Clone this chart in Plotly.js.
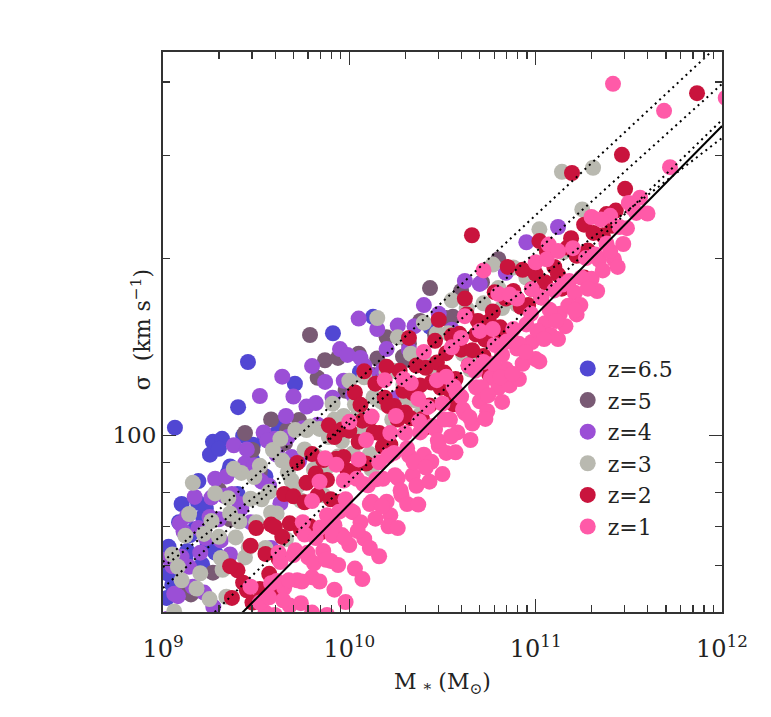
<!DOCTYPE html>
<html>
<head>
<meta charset="utf-8">
<script src="https://cdn.plot.ly/plotly-3.0.1.min.js"></script>
<style>html,body{margin:0;padding:0;background:#fff;}#chart{width:771px;height:717px;}</style>
</head>
<body>
<div id="chart"></div>
<script>
// ---- data: log10(M*/Msun) and log10(sigma / km s^-1) ----
const seriesNames = ['z=6.5', 'z=5', 'z=4', 'z=3', 'z=2', 'z=1'];

const logM_z65 = [9.064,9.456,9.403,9.708,9.268,9.317,9.483,9.547,9.601,9.349,9.252,9.188,9.086,9.145,9.215,9.027,9.091,9.021,9.478,9.912,10.057,10.127,10.433,9.17,9.24,9.28,9.21,9.40,9.55,9.12,9.05,
  9.03,9.07,9.10,9.13,9.19,9.23,9.30,9.36,9.43,9.62];
const logS_z65 = [2.013,2.125,2.048,2.088,1.989,1.994,1.984,1.997,2.001,1.936,1.967,1.885,1.852,1.830,1.861,1.764,1.777,1.723,1.958,2.174,2.108,2.202,2.185,1.840,1.815,1.800,1.780,1.900,1.930,1.790,1.745,
  1.810,1.753,1.883,1.803,1.922,1.875,1.977,1.947,1.999,2.020];

const logM_z5 = [9.44,9.665,9.655,9.789,9.869,9.939,10.127,10.288,10.326,9.107,9.268,10.433,10.712,10.487,10.556,9.30,9.36,9.52,9.58,9.73,9.98,10.05,10.20,10.38,10.60,10.80,9.15,10.46,10.52,
  9.22,9.48,9.62,9.83,10.15,10.32];
const logS_z5 = [2.004,2.009,1.987,2.171,2.128,2.132,2.103,2.134,2.128,1.733,1.766,2.251,2.261,2.202,2.202,1.907,1.857,1.938,2.027,2.026,2.076,2.139,2.167,2.195,2.246,2.300,1.729,2.171,2.200,
  1.832,1.975,1.980,2.098,2.131,2.156];

const logM_z4 = [9.02,9.05,9.08,9.11,9.14,9.17,9.20,9.22,9.25,9.27,9.28,9.31,9.33,9.36,9.38,9.41,9.44,9.47,9.52,9.50,9.54,9.57,9.60,9.64,9.63,9.67,9.70,9.73,9.77,9.80,9.83,9.87,9.91,9.95,9.99,10.02,10.06,10.10,10.15,10.20,10.26,10.32,10.40,10.48,10.55,10.62,10.70,10.84,10.95,11.12,9.92,10.25,9.58,9.09,10.05,
  9.03,9.06,9.10,9.13,9.16,9.19,9.23,9.26,9.30,9.34,9.37,9.42,9.45,9.49,9.53,9.56,9.61,9.66,9.69,9.75,9.82,9.89,9.97,10.08,10.18,10.35];
const logS_z4 = [1.687,1.777,1.726,1.836,1.776,1.895,1.800,1.732,1.861,1.708,1.926,1.821,1.897,1.797,1.983,1.883,1.952,1.852,2.067,1.932,2.005,1.914,1.994,2.100,1.884,1.997,2.066,1.956,2.049,2.118,2.018,2.091,2.064,2.147,2.137,2.069,2.132,2.105,2.181,2.147,2.187,2.146,2.222,2.207,2.180,2.263,2.258,2.277,2.329,2.355,1.957,2.063,1.808,1.850,2.199,
  1.790,1.730,1.793,1.863,1.742,1.842,1.825,1.894,1.857,1.930,1.900,1.876,1.976,1.949,1.921,1.991,1.967,2.033,1.963,2.012,2.055,2.017,2.093,2.119,2.111,2.186];

const logM_z3 = [9.05,9.10,9.16,9.18,9.22,9.25,9.28,9.32,9.34,9.36,9.39,9.42,9.44,9.47,9.50,9.52,9.55,9.57,9.59,9.61,9.64,9.66,9.69,9.71,9.74,9.76,9.79,9.81,9.84,9.86,9.89,9.91,9.94,9.97,10.00,10.02,10.05,10.08,10.11,10.15,10.17,10.20,10.23,10.26,10.29,10.33,10.36,10.40,10.43,10.47,10.51,10.55,10.59,10.63,10.67,10.72,10.77,10.82,10.88,10.95,11.02,11.147,11.141,11.308,11.25,9.38,9.30,9.12,9.06,10.12,10.38,10.65,
  9.08,9.14,9.20,9.26,9.31,9.35,9.41,9.46,9.49,9.53,9.58,9.63,9.67,9.72,9.77,9.82,9.87,9.92,9.96,10.03,10.07,10.13,10.19,10.24,10.31,10.38,10.45,10.53,10.61,10.69,10.80,10.90];
const logS_z3 = [1.797,1.753,1.919,1.739,1.832,1.721,1.901,1.771,1.725,1.867,1.826,1.936,1.792,1.892,1.852,1.948,1.808,1.904,1.975,1.867,1.957,1.823,1.923,2.009,1.889,1.976,2.015,1.942,2.011,1.898,1.997,2.054,1.964,2.033,2.093,1.969,2.039,2.099,1.968,2.200,2.058,2.107,2.027,2.167,2.086,2.139,2.059,2.192,2.121,2.174,2.097,2.230,2.163,2.216,2.139,2.225,2.291,2.217,2.286,2.269,2.351,2.312,2.449,2.456,2.385,1.943,1.827,1.829,1.700,1.942,2.035,2.112,
  1.776,1.866,1.765,1.854,1.791,1.893,1.853,1.809,1.929,1.891,1.868,1.994,1.937,1.913,2.009,1.965,1.941,2.027,1.990,2.053,2.005,2.065,2.054,2.110,2.063,2.135,2.108,2.174,2.139,2.195,2.251,2.223];

const logM_z2 = [9.37,9.45,9.48,9.55,9.58,9.62,9.65,9.68,9.72,9.74,9.77,9.80,9.83,9.86,9.89,9.90,9.93,9.96,9.99,10.00,10.03,10.05,10.06,10.09,10.11,10.14,10.16,10.19,10.22,10.24,10.27,10.30,10.34,10.36,10.39,10.41,10.44,10.46,10.49,10.52,10.55,10.57,10.60,10.63,10.658,10.66,10.69,10.72,10.75,10.78,10.81,10.84,10.87,10.90,10.93,10.96,11.00,11.03,11.06,11.10,11.14,11.17,11.195,11.22,11.26,11.31,11.36,11.43,11.463,11.48,11.866,11.26,9.40,9.47,9.52,9.60,9.36,9.95,10.08,10.20,10.32,10.48,10.62,10.85,11.02,10.40,10.56,10.75,9.85,
  9.43,9.50,9.57,9.60,9.64,9.70,9.76,9.79,9.82,9.88,9.92,9.97,10.02,10.07,10.13,10.18,10.21,10.26,10.29,10.33,10.38,10.43,10.47,10.51,10.54,10.59,10.64,10.68,10.73,10.77,10.82,10.88,10.92,10.98,11.05,11.12,11.19,11.28,11.38,11.41];
const logS_z2 = [1.723,1.736,1.715,1.798,1.848,1.790,1.900,1.850,1.953,1.839,1.919,1.968,1.898,1.958,2.017,1.891,1.960,2.010,1.940,2.008,2.073,1.989,2.052,1.952,2.028,2.088,2.004,2.064,1.984,2.050,2.110,2.039,2.072,2.119,2.028,2.115,2.090,2.161,2.081,2.140,2.170,2.096,2.146,2.206,2.341,2.145,2.195,2.135,2.194,2.244,2.184,2.233,2.163,2.233,2.282,2.222,2.275,2.235,2.314,2.287,2.250,2.320,2.447,2.306,2.359,2.345,2.341,2.383,2.478,2.420,2.583,2.269,1.770,1.812,1.738,1.734,1.777,1.887,2.109,2.117,2.166,2.197,2.233,2.287,2.331,2.012,2.053,2.104,1.835,
  1.749,1.842,1.764,1.844,1.827,1.896,1.886,1.845,1.935,1.924,1.997,1.963,1.939,2.025,2.005,1.981,2.050,2.027,2.076,2.029,2.085,2.051,2.124,2.107,2.077,2.173,2.119,2.172,2.163,2.211,2.167,2.246,2.219,2.249,2.261,2.274,2.336,2.315,2.377,2.357];

const logM_z1 = [9.55,9.58,9.60,9.63,9.65,9.68,9.70,9.72,9.74,9.76,9.78,9.80,9.82,9.84,9.86,9.88,9.90,9.92,9.94,9.96,9.98,10.00,10.02,10.04,10.06,10.08,10.10,10.12,10.14,10.16,10.18,10.20,10.22,10.24,10.26,10.28,10.30,10.32,10.34,10.36,10.38,10.40,10.42,10.44,10.46,10.48,10.50,10.52,10.54,10.56,10.58,10.60,10.62,10.64,10.66,10.68,10.70,10.72,10.74,10.76,10.78,10.80,10.82,10.84,10.86,10.88,10.90,10.93,10.95,10.98,11.00,11.03,11.05,11.08,11.10,11.13,11.16,11.18,11.21,11.24,11.27,11.30,11.34,11.38,11.42,11.45,11.49,11.54,11.60,
  9.80,9.87,9.93,10.00,10.05,10.12,10.19,10.25,10.33,10.40,10.47,10.55,10.62,10.72,10.70,10.80,10.90,11.00,11.07,11.06,11.20,11.30,11.40,11.50,
  11.415,11.689,11.721,12.02,9.47,9.52,9.62,
  9.80,9.88,9.92,9.98,10.03,10.07,10.11,10.16,10.21,10.26,10.31,10.37,10.43,10.50,10.57,10.65,10.73,10.82,10.91,11.02,11.12,11.22,11.33,11.44,
  9.61,9.645,9.675,9.71,9.745,9.775,9.81,9.845,9.875,9.91,9.945,9.975,10.01,10.045,10.075,10.11,10.145,10.175,10.21,10.245,10.275,10.31,10.345,10.375,10.41,10.445,10.475,10.51,10.545,10.575,10.61,10.645,10.675,10.71,10.745,10.775,10.81,10.845,10.875,10.91,10.945,10.975,11.01,11.045,11.075,11.11,11.145,11.175,11.21,11.245,11.28,11.32,11.36,11.40,11.47,11.52,9.57,
  9.75,9.84,9.97,10.09,10.22,10.29,10.37,10.52,10.60,10.77,10.86,10.98,11.12,11.35,11.56];
const logS_z1 = [1.698,1.748,1.694,1.784,1.740,1.710,1.796,1.753,1.714,1.831,1.792,1.758,1.825,1.751,1.803,1.864,1.786,1.847,1.779,1.830,1.891,1.813,1.869,1.926,1.852,1.824,1.915,1.887,1.858,1.954,1.926,1.887,1.864,1.970,1.927,1.898,2.004,1.966,1.932,1.914,2.005,1.967,2.048,1.955,2.011,1.982,2.054,1.970,2.027,2.083,2.005,2.066,2.038,2.119,2.020,2.082,2.058,2.125,2.041,2.098,2.154,2.081,2.137,2.113,2.085,2.181,2.148,2.122,2.189,2.159,2.130,2.235,2.191,2.171,2.247,2.207,2.186,2.263,2.243,2.222,2.302,2.267,2.299,2.327,2.300,2.355,2.353,2.379,2.378,
  1.888,1.961,1.950,2.023,1.959,2.032,2.094,2.033,2.089,2.142,2.094,2.150,2.203,2.281,2.178,2.241,2.233,2.295,2.325,2.300,2.319,2.372,2.374,2.396,
  2.599,2.553,2.457,2.575,1.742,1.715,1.800,
  1.698,1.694,1.737,1.716,1.773,1.755,1.808,1.794,1.845,1.842,1.883,1.882,1.921,1.934,1.971,1.992,2.028,2.057,2.096,2.126,2.164,2.206,2.246,2.287,
  1.752,1.719,1.753,1.804,1.751,1.800,1.782,1.843,1.788,1.829,1.870,1.825,1.871,1.837,1.917,1.883,1.925,1.879,1.965,1.932,1.906,1.978,1.954,2.024,1.945,2.016,1.991,2.027,1.998,2.073,2.044,2.031,2.110,2.082,2.068,2.122,2.099,2.160,2.105,2.156,2.142,2.207,2.178,2.164,2.214,2.195,2.257,2.221,2.213,2.269,2.250,2.308,2.281,2.314,2.326,2.387,1.724,
  1.852,1.921,1.923,1.992,2.004,2.096,2.062,2.100,2.166,2.181,2.240,2.249,2.314,2.368,2.405];

// relations drawn as lines: log10(sigma) at M* = 1e10 and log slope
const lineLogSigma10 = [2.0797, 2.0262, 1.9215, 2.0191, 1.8828];
const lineSlope      = [0.2955, 0.2863, 0.3080, 0.2438, 0.3221];
const lineLogMEnds   = [9, 12];

// tick labels
const xTickVals = [1e9, 1e10, 1e11, 1e12];
const xTickText = ['10<sup>9</sup>', '10<sup>10</sup>', '10<sup>11</sup>', '10<sup>12</sup>'];
const yTickVals = [100];
const yTickText = ['100'];

// ---- styles ----
const seriesColors = ['#5147d3', '#795a74', '#9b4fd6', '#b9b9b0', '#c9143d', '#ff5aa8'];
const lineDashes = ['2px,4px', '2px,4px', '2px,4px', '2px,4px', 'solid'];

const allM = [logM_z65, logM_z5, logM_z4, logM_z3, logM_z2, logM_z1];
const allS = [logS_z65, logS_z5, logS_z4, logS_z3, logS_z2, logS_z1];

const traces = [];
for (let i = 0; i < seriesNames.length; i++) {
  traces.push({
    type: 'scatter', mode: 'markers', name: seriesNames[i],
    x: allM[i].map(v => Math.pow(10, v)),
    y: allS[i].map(v => Math.pow(10, v)),
    marker: { color: seriesColors[i], size: 16, line: { width: 0 } },
    hoverinfo: 'x+y'
  });
}
for (let j = 0; j < lineSlope.length; j++) {
  traces.push({
    type: 'scatter', mode: 'lines', showlegend: false, hoverinfo: 'skip',
    x: lineLogMEnds.map(v => Math.pow(10, v)),
    y: lineLogMEnds.map(v => Math.pow(10, lineLogSigma10[j] + lineSlope[j] * (v - 10))),
    line: { color: '#000', width: 2, dash: lineDashes[j] }
  });
}

function decadeMinors(lo, hi) {
  const out = [];
  for (let e = lo; e < hi; e++) for (let k = 2; k <= 9; k++) out.push(k * Math.pow(10, e));
  return out;
}

const FONT = 'DejaVu Serif, Liberation Serif, serif';
const layout = {
  width: 771, height: 717,
  margin: { l: 163, r: 49, t: 52, b: 105 },
  paper_bgcolor: '#fff', plot_bgcolor: '#fff',
  font: { family: FONT, color: '#222', size: 22 },
  showlegend: true,
  legend: {
    x: 0.724, y: 0.472, xanchor: 'left', yanchor: 'top',
    bgcolor: 'rgba(0,0,0,0)', borderwidth: 0,
    font: { family: FONT, size: 22, color: '#222' },
    itemwidth: 30, tracegroupgap: 0
  },
  xaxis: {
    type: 'log', range: [9, 12],
    tickmode: 'array', tickvals: xTickVals, ticktext: xTickText,
    ticks: 'inside', ticklen: 13, tickwidth: 1.5, tickcolor: '#333',
    ticklabelstandoff: 14,
    showline: true, linewidth: 2, linecolor: '#333', mirror: 'allticks',
    showgrid: false, zeroline: false,
    tickfont: { family: FONT, size: 24, color: '#222' },
    minor: { tickmode: 'array', tickvals: decadeMinors(9, 12), ticks: 'inside', ticklen: 7, tickwidth: 1.3, tickcolor: '#333', showgrid: false },
    title: { text: 'M <sub>*</sub> (M<sub>⊙</sub>)', font: { family: FONT, size: 22, color: '#222' }, standoff: 12 }
  },
  yaxis: {
    type: 'log', range: [Math.log10(50), Math.log10(450)],
    tickmode: 'array', tickvals: yTickVals, ticktext: yTickText,
    ticks: 'inside', ticklen: 13, tickwidth: 1.5, tickcolor: '#333',
    showline: true, linewidth: 2, linecolor: '#333', mirror: 'allticks',
    showgrid: false, zeroline: false,
    tickfont: { family: FONT, size: 23, color: '#222' },
    minor: { tickmode: 'array', tickvals: [60, 70, 80, 90, 200, 300, 400], ticks: 'inside', ticklen: 7, tickwidth: 1.3, tickcolor: '#333', showgrid: false },
    title: { text: '' }
  },
  annotations: [{
    xref: 'paper', yref: 'paper', x: -0.068, y: 0.505,
    text: 'σ  (km s<sup>−1</sup>)', textangle: -90, showarrow: false,
    font: { family: FONT, size: 22, color: '#222' }
  }]
};

Plotly.newPlot('chart', traces, layout, { displayModeBar: false, staticPlot: true });
</script>
</body>
</html>
